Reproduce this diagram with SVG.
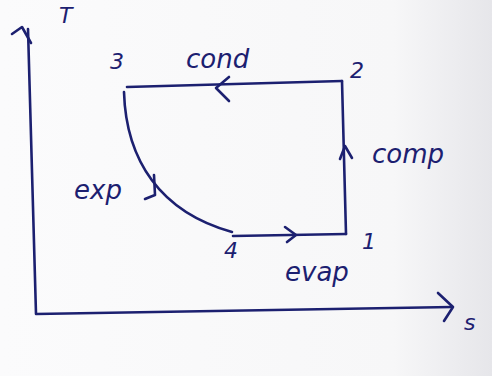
<svg xmlns="http://www.w3.org/2000/svg" width="492" height="376" viewBox="0 0 492 376">
<defs>
<style>
.ln{fill:none;stroke:#1c2070;stroke-width:2.6;stroke-linecap:round;stroke-linejoin:round}
.lb{font-family:"DejaVu Sans","Liberation Sans",sans-serif;font-style:italic;fill:#1c2070;font-size:22px}
.wd{font-size:26px}
</style>
<linearGradient id="bg" x1="0" y1="0" x2="1" y2="0">
<stop offset="0" stop-color="#fbfbfc"/>
<stop offset="0.8" stop-color="#f7f7f8"/>
<stop offset="1" stop-color="#e6e6ea"/>
</linearGradient>
</defs>
<rect width="492" height="376" fill="url(#bg)"/>
<g id="axes">
<path class="ln" d="M28 29 L36 314 L452 307"/>
<path class="ln" d="M12 34 L22 27 L31 43"/>
<path class="ln" d="M438 293 L453 307 L444 321"/>
<text class="lb" x="59" y="23">T</text>
<text class="lb" x="464" y="330">s</text>
</g>
<g id="connectors">
<path id="cond" class="ln" d="M342 81 L127 87"/>
<path class="ln" d="M229 77 L216 88 L229 101"/>
<path id="comp" class="ln" d="M346 234 L342 81"/>
<path class="ln" d="M340 159 L345 146 L352 158"/>
<path id="evap" class="ln" d="M233 236 L346 234"/>
<path class="ln" d="M285 227 L296 235 L287 242"/>
<path id="exp" class="ln" d="M124 92 C126 160 160 212 232 232"/>
<path class="ln" d="M154 175 L155 195 L145 199"/>
</g>
<g id="p3"><text class="lb" x="110" y="69">3</text></g>
<g id="p2"><text class="lb" x="350" y="78">2</text></g>
<g id="p1"><text class="lb" x="362" y="249">1</text></g>
<g id="p4"><text class="lb" x="224" y="258">4</text></g>
<g id="l-cond"><text class="lb wd" x="186" y="68">cond</text></g>
<g id="l-comp"><text class="lb wd" x="372" y="163">comp</text></g>
<g id="l-exp"><text class="lb wd" x="74" y="199">exp</text></g>
<g id="l-evap"><text class="lb wd" x="285" y="281">evap</text></g>
</svg>
